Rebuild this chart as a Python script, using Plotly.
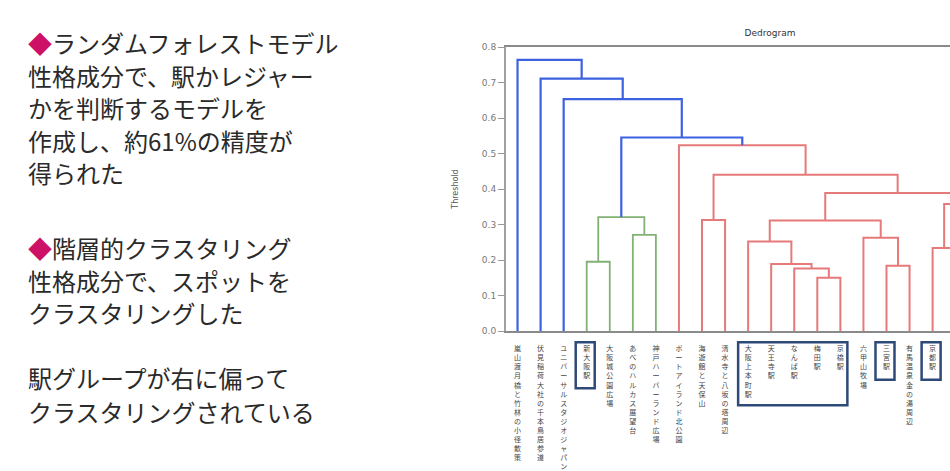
import plotly.graph_objects as go

# ---------------- data ----------------
leaf_labels = [
    "嵐山渡月橋と竹林の小径散策", "伏見稲荷大社の千本鳥居参道", "ユニバーサルスタジオジャパン",
    "新大阪駅", "大阪城公園広場", "あべのハルカス展望台", "神戸ハーバーランド広場",
    "ポートアイランド北公園", "海遊館と天保山", "清水寺と八坂の塔周辺",
    "大阪上本町駅", "天王寺駅", "なんば駅", "梅田駅", "京橋駅",
    "六甲山牧場", "三宮駅", "有馬温泉金の湯周辺", "京都駅",
    "東大寺大仏殿", "奈良公園の鹿", "姫路城", "明石海峡大橋",
]
# merges: (child_a, child_b, height, color group); ids >= n_leaves refer to earlier merges
merge_a = [13, 12, 11, 3, 16, 18, 10, 15, 5, 29, 8, 26, 21, 20, 28, 32, 33, 7, 34, 2, 1, 0]
merge_b = [14, 23, 24, 4, 17, 19, 25, 27, 6, 30, 9, 31, 22, 35, 36, 37, 38, 39, 40, 41, 42, 43]
merge_h = [0.150, 0.176, 0.189, 0.195, 0.184, 0.234, 0.252, 0.263, 0.271, 0.311, 0.313,
           0.321, 0.205, 0.300, 0.358, 0.389, 0.440, 0.523, 0.545, 0.653, 0.711, 0.764]
merge_c = ["r", "r", "r", "g", "r", "r", "r", "r", "g", "r", "r",
           "g", "r", "r", "r", "r", "r", "r", "b", "b", "b", "b"]
boxed_groups = [[3], [10, 11, 12, 13, 14], [16], [18]]

y_ticks = [0.0, 0.1, 0.2, 0.3, 0.4, 0.5, 0.6, 0.7, 0.8]

text_lines = ["<span style='color:#cc1166'>◆</span>ランダムフォレストモデル",
              "性格成分で、駅かレジャー",
              "かを判断するモデルを",
              "作成し、約61%の精度が",
              "得られた",
              "<span style='color:#cc1166'>◆</span>階層的クラスタリング",
              "性格成分で、スポットを",
              "クラスタリングした",
              "駅グループが右に偏って",
              "クラスタリングされている"]
text_line_y = [42, 77, 112, 147, 181, 262, 297, 331, 401, 437]

# ---------------- styles ----------------
COLORS = {"b": "#3d62e0", "g": "#82b176", "r": "#e67a7a"}
WIDTHS = {"b": 2.2, "g": 1.8, "r": 2.0}
W, H = 950, 471
ML, MT, MB = 506, 47, 120
PW, PH = W - ML, H - MT - MB

n = len(leaf_labels)
leaf_x = [5 + 10 * i for i in range(n)]
pos_x = list(leaf_x)
pos_h = [0.0] * n
segs = {"b": ([], []), "g": ([], []), "r": ([], [])}
for a, b, h, c in zip(merge_a, merge_b, merge_h, merge_c):
    xa, xb = pos_x[a], pos_x[b]
    xs, ys = segs[c]
    xs += [xa, xa, xb, xb, None]
    ys += [pos_h[a], h, h, pos_h[b], None]
    pos_x.append((xa + xb) / 2)
    pos_h.append(h)

xmax = (W - ML) / 2.306  # visible part of the dendrogram
px_per_unit = PW / xmax

fig = go.Figure()
for c in ["g", "r", "b"]:
    xs, ys = segs[c]
    fig.add_trace(go.Scatter(x=xs, y=ys, mode="lines",
                             line=dict(color=COLORS[c], width=WIDTHS[c]),
                             hoverinfo="skip", showlegend=False))

tick_text = ["<br>".join(list(s)) for s in leaf_labels]


def py(px):  # page pixel y -> paper y
    return (H - MB - px) / PH


def pxp(px):  # page pixel x -> paper x
    return (px - ML) / PW


# boxes around station labels
char_pitch = 9.1
for grp in boxed_groups:
    nch = max(len(leaf_labels[i]) for i in grp)
    pad = 7 if len(grp) > 1 else 8
    fig.add_shape(type="rect", xref="x", yref="paper",
                  x0=leaf_x[grp[0]] - pad / px_per_unit - 3 / px_per_unit,
                  x1=leaf_x[grp[-1]] + pad / px_per_unit,
                  y0=py(363), y1=py(368 + nch * char_pitch + 8),
                  line=dict(color="#2e4a78", width=2.5), fillcolor="rgba(0,0,0,0)")

# left-side text
for txt, yc in zip(text_lines, text_line_y):
    fig.add_annotation(text=txt, xref="paper", yref="paper",
                       x=pxp(26), y=py(yc), xanchor="left", yanchor="middle",
                       align="left", showarrow=False,
                       font=dict(family="Noto Sans CJK JP", size=24, color="#2a2a2a"))

fig.update_layout(
    width=W, height=H,
    margin=dict(l=ML, r=0, t=MT, b=MB, pad=0),
    paper_bgcolor="white", plot_bgcolor="white",
    title=dict(text="Dedrogram", x=pxp(770), xref="paper", xanchor="center",
               y=1 - 33 / H, yref="container", yanchor="middle",
               font=dict(family="DejaVu Sans", size=9, color="#333333")),
    xaxis=dict(range=[0, xmax], tickvals=leaf_x, ticktext=tick_text, tickangle=0,
               ticks="", showgrid=False, zeroline=False, showline=True, mirror=True,
               linecolor="#8a8a8a", linewidth=1.5, ticklabelstandoff=10,
               tickfont=dict(family="Noto Sans CJK JP", size=7, color="#444444")),
    yaxis=dict(range=[0, 0.8], tickvals=y_ticks, tickformat=".1f", ticks="outside",
               ticklen=6, tickcolor="#999999", showgrid=False, zeroline=False,
               showline=True, linecolor="#a0a0a0", linewidth=2,
               tickfont=dict(family="DejaVu Sans", size=9, color="#777777"),
               title=dict(text="Threshold", standoff=22,
                          font=dict(family="DejaVu Sans", size=8, color="#555555"))),
)

fig.write_html("out.html")
